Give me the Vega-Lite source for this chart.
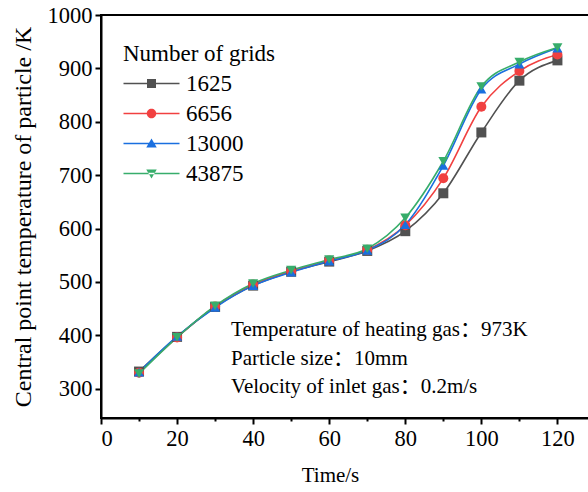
{
  "$schema": "https://vega.github.io/schema/vega-lite/v6.json",
  "autosize": "none",
  "width": 488,
  "height": 403,
  "padding": {"left": 101, "top": 15, "right": 0, "bottom": 74},
  "background": "white",
  "config": {
    "view": {"stroke": "black", "strokeWidth": 2},
    "font": "Liberation Serif",
    "axis": {
      "domainColor": "black",
      "domainWidth": 2,
      "tickColor": "black",
      "tickWidth": 2,
      "labelFont": "Liberation Serif",
      "labelFontSize": 22.5,
      "labelColor": "black",
      "titleFont": "Liberation Serif",
      "titleFontWeight": "normal",
      "titleColor": "black",
      "grid": false
    },
    "legend": {
      "titleFont": "Liberation Serif",
      "titleFontSize": 23,
      "titleFontWeight": "normal",
      "titleColor": "black",
      "titlePadding": 6,
      "labelFont": "Liberation Serif",
      "labelFontSize": 23,
      "labelColor": "black",
      "labelOffset": 40,
      "rowPadding": 6,
      "symbolSize": 100,
      "symbolStrokeWidth": 0
    }
  },
  "data": {
    "values": [
      {"grid": "1625", "t": 10, "T": 332}, {"grid": "1625", "t": 20, "T": 397}, {"grid": "1625", "t": 30, "T": 453},
      {"grid": "1625", "t": 40, "T": 493}, {"grid": "1625", "t": 50, "T": 519}, {"grid": "1625", "t": 60, "T": 538},
      {"grid": "1625", "t": 70, "T": 558}, {"grid": "1625", "t": 80, "T": 595}, {"grid": "1625", "t": 90, "T": 666},
      {"grid": "1625", "t": 100, "T": 780}, {"grid": "1625", "t": 110, "T": 877}, {"grid": "1625", "t": 120, "T": 915},

      {"grid": "6656", "t": 10, "T": 330}, {"grid": "6656", "t": 20, "T": 396}, {"grid": "6656", "t": 30, "T": 454},
      {"grid": "6656", "t": 40, "T": 495}, {"grid": "6656", "t": 50, "T": 520}, {"grid": "6656", "t": 60, "T": 540},
      {"grid": "6656", "t": 70, "T": 560}, {"grid": "6656", "t": 80, "T": 606}, {"grid": "6656", "t": 90, "T": 694},
      {"grid": "6656", "t": 100, "T": 828}, {"grid": "6656", "t": 110, "T": 895}, {"grid": "6656", "t": 120, "T": 926},

      {"grid": "13000", "t": 10, "T": 331}, {"grid": "13000", "t": 20, "T": 398}, {"grid": "13000", "t": 30, "T": 452},
      {"grid": "13000", "t": 40, "T": 493}, {"grid": "13000", "t": 50, "T": 518}, {"grid": "13000", "t": 60, "T": 539},
      {"grid": "13000", "t": 70, "T": 559}, {"grid": "13000", "t": 80, "T": 607}, {"grid": "13000", "t": 90, "T": 718},
      {"grid": "13000", "t": 100, "T": 861}, {"grid": "13000", "t": 110, "T": 908}, {"grid": "13000", "t": 120, "T": 938},

      {"grid": "43875", "t": 10, "T": 328}, {"grid": "43875", "t": 20, "T": 396}, {"grid": "43875", "t": 30, "T": 455},
      {"grid": "43875", "t": 40, "T": 497}, {"grid": "43875", "t": 50, "T": 522}, {"grid": "43875", "t": 60, "T": 542},
      {"grid": "43875", "t": 70, "T": 562}, {"grid": "43875", "t": 80, "T": 620}, {"grid": "43875", "t": 90, "T": 726},
      {"grid": "43875", "t": 100, "T": 866}, {"grid": "43875", "t": 110, "T": 912}, {"grid": "43875", "t": 120, "T": 939}
    ]
  },
  "layer": [
    {
      "mark": {"type": "line", "interpolate": "monotone", "strokeWidth": 1.6},
      "encoding": {
        "x": {
          "field": "t",
          "type": "quantitative",
          "scale": {"domain": [0, 128.3], "nice": false, "zero": false},
          "axis": {
            "title": "Time/s",
            "titleFontSize": 21,
            "titlePadding": 15,
            "titleX": 229,
            "values": [0, 10, 20, 30, 40, 50, 60, 70, 80, 90, 100, 110, 120],
            "labelExpr": "datum.value % 20 === 0 ? datum.label : ''",
            "labelPadding": 3,
            "tickSize": {"condition": {"test": "datum.value % 20 === 0", "value": 6}, "value": 3},
            "format": "d"
          }
        },
        "y": {
          "field": "T",
          "type": "quantitative",
          "scale": {"domain": [245, 1000], "nice": false, "zero": false},
          "axis": {
            "title": "Central point temperature of particle /K",
            "titleFontSize": 24,
            "titlePadding": 12,
            "values": [300, 350, 400, 450, 500, 550, 600, 650, 700, 750, 800, 850, 900, 950, 1000],
            "labelExpr": "datum.value % 100 === 0 ? datum.label : ''",
            "labelPadding": 3,
            "tickSize": {"condition": {"test": "datum.value % 100 === 0", "value": 6}, "value": 3},
            "format": "d"
          }
        },
        "color": {
          "field": "grid",
          "type": "nominal",
          "title": "Number of grids",
          "scale": {"domain": ["1625", "6656", "13000", "43875"], "range": ["#515151", "#F14040", "#1A6FDF", "#37AD6B"]}
        },
        "detail": {"field": "grid"}
      }
    },
    {
      "transform": [{"filter": "datum.grid === '1625'"}],
      "mark": {"type": "point", "shape": "square", "filled": true, "opacity": 1, "size": 100, "strokeWidth": 0, "color": "#515151"},
      "encoding": {"x": {"field": "t", "type": "quantitative"}, "y": {"field": "T", "type": "quantitative"}}
    },
    {
      "transform": [{"filter": "datum.grid === '6656'"}],
      "mark": {"type": "point", "shape": "circle", "filled": true, "opacity": 1, "size": 100, "strokeWidth": 0, "color": "#F14040"},
      "encoding": {"x": {"field": "t", "type": "quantitative"}, "y": {"field": "T", "type": "quantitative"}}
    },
    {
      "transform": [{"filter": "datum.grid === '13000'"}],
      "mark": {"type": "point", "shape": "triangle-up", "filled": true, "opacity": 1, "size": 100, "strokeWidth": 0, "color": "#1A6FDF"},
      "encoding": {"x": {"field": "t", "type": "quantitative"}, "y": {"field": "T", "type": "quantitative"}}
    },
    {
      "transform": [{"filter": "datum.grid === '43875'"}],
      "mark": {"type": "point", "shape": "triangle-down", "filled": true, "opacity": 1, "size": 100, "strokeWidth": 0, "color": "#37AD6B"},
      "encoding": {"x": {"field": "t", "type": "quantitative"}, "y": {"field": "T", "type": "quantitative"}}
    },
    {
      "transform": [{"filter": "datum.t < 0"}],
      "mark": {"type": "point", "filled": true, "opacity": 1, "size": 100},
      "encoding": {
        "x": {"field": "t", "type": "quantitative"},
        "y": {"field": "T", "type": "quantitative"},
        "color": {
          "field": "grid",
          "type": "nominal",
          "title": "Number of grids",
          "legend": {"orient": "none", "legendX": 22, "legendY": 28}
        },
        "shape": {
          "field": "grid",
          "type": "nominal",
          "title": "Number of grids",
          "scale": {
            "domain": ["1625", "6656", "13000", "43875"],
            "range": [
              "M-2.2,-0.15H9V0.15H-2.2Z M2.5,-0.9H4.3V0.9H2.5Z",
              "M-2.2,-0.15H9V0.15H-2.2Z M4.35,0A0.95,0.95,0,1,1,2.45,0A0.95,0.95,0,1,1,4.35,0Z",
              "M-2.2,-0.15H9V0.15H-2.2Z M3.4,-1L4.45,0.8H2.35Z",
              "M-2.2,-0.15H9V0.15H-2.2Z M3.4,1L4.45,-0.8H2.35Z"
            ]
          },
          "legend": {"orient": "none", "legendX": 22, "legendY": 28}
        }
      }
    },
    {
      "data": {"values": [{"note": "Temperature of heating gas：973K"}]},
      "mark": {"type": "text", "align": "left", "baseline": "alphabetic", "font": "'Liberation Serif', 'Noto Sans CJK SC'", "fontSize": 21, "fill": "black"},
      "encoding": {
        "x": {"datum": 34.2, "type": "quantitative"},
        "y": {"datum": 398.5, "type": "quantitative"},
        "text": {"field": "note"}
      }
    },
    {
      "data": {"values": [{"note": "Particle size：10mm"}]},
      "mark": {"type": "text", "align": "left", "baseline": "alphabetic", "font": "'Liberation Serif', 'Noto Sans CJK SC'", "fontSize": 21, "fill": "black"},
      "encoding": {
        "x": {"datum": 34.2, "type": "quantitative"},
        "y": {"datum": 345, "type": "quantitative"},
        "text": {"field": "note"}
      }
    },
    {
      "data": {"values": [{"note": "Velocity of inlet gas：0.2m/s"}]},
      "mark": {"type": "text", "align": "left", "baseline": "alphabetic", "font": "'Liberation Serif', 'Noto Sans CJK SC'", "fontSize": 21, "fill": "black"},
      "encoding": {
        "x": {"datum": 34.2, "type": "quantitative"},
        "y": {"datum": 291.5, "type": "quantitative"},
        "text": {"field": "note"}
      }
    }
  ]
}
